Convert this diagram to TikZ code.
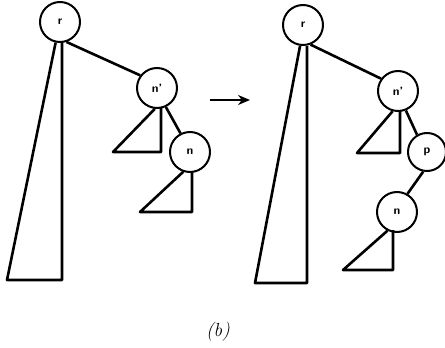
\documentclass[tikz,border=0pt]{standalone}
\usetikzlibrary{arrows.meta}
\begin{document}
\begin{tikzpicture}[x=1pt,y=-1pt,line width=2.6pt,line join=round,
  tn/.style={circle,draw,line width=2pt,minimum size=40pt,inner sep=0pt,font=\sffamily\bfseries\large},
  edge/.style={line width=2.6pt},
  tri/.style={line width=2.6pt}]
\useasboundingbox (0,0) rectangle (445,348);
% left panel
\node[tn] (r1) at (60,22) {r};
\node[tn] (np1) at (157,88) {n'};
\node[tn] (n1) at (190,152) {n};
\draw[edge] (r1.-72) -- (np1.143);
\draw[edge] (np1.-65) -- (n1.117);
\draw[tri] (r1.-102) -- (7,280) -- (62,280) -- (62,42);
\draw[tri] (np1.-96) -- (113,152) -- (161,152) -- (161,107);
\draw[tri] (n1.-109) -- (140,212) -- (192,212) -- (192,172);
% arrow
\coordinate (a1) at (210,100);
\coordinate (a2) at (250,100);
\draw[line width=2.6pt,-{Stealth[length=12pt,width=10pt]}] (a1) -- (a2);
% right panel
\node[tn] (r2) at (303,25) {r};
\node[tn] (np2) at (398,91) {n'};
\node[tn,minimum size=38pt] (p2) at (427,152) {p};
\node[tn] (n2) at (397,212) {n};
\draw[edge] (r2.-69) -- (np2.144);
\draw[edge] (np2.-68) -- (p2.120);
\draw[edge] (p2.-101) -- (n2.60);
\draw[tri] (r2.-98) -- (255,283) -- (307,283) -- (307,46);
\draw[tri] (np2.-105) -- (357,153) -- (400,153) -- (400,110);
\draw[tri] (n2.-117) -- (343,270) -- (393,270) -- (393,230);
% caption
\node (lab) at (218,332) {\fontsize{19}{22}\selectfont\textit{(b)}};
\end{tikzpicture}
\end{document}
